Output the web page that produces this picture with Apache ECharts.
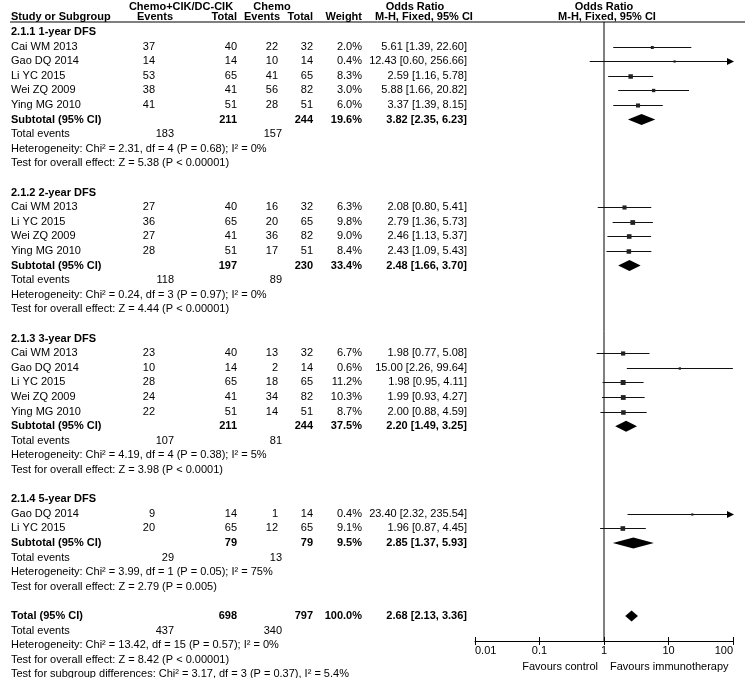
<!DOCTYPE html>
<html>
<head>
<meta charset="utf-8">
<script src="https://cdn.jsdelivr.net/npm/echarts@6/dist/echarts.min.js"></script>
<style>
html,body{margin:0;padding:0;background:#fff;}
#chart{width:745px;height:678px;}
</style>
</head>
<body>
<div id="chart"></div>
<script>
// ---------------- DATA ----------------
const groupNames = ["2.1.1 1-year DFS", "2.1.2 2-year DFS", "2.1.3 3-year DFS", "2.1.4 5-year DFS"];
const studyGroup = [0,0,0,0,0, 1,1,1,1, 2,2,2,2,2, 3,3];
const studyNames = ["Cai WM 2013","Gao DQ 2014","Li YC 2015","Wei ZQ 2009","Ying MG 2010",
                    "Cai WM 2013","Li YC 2015","Wei ZQ 2009","Ying MG 2010",
                    "Cai WM 2013","Gao DQ 2014","Li YC 2015","Wei ZQ 2009","Ying MG 2010",
                    "Gao DQ 2014","Li YC 2015"];
const expEvents = [37,14,53,38,41, 27,36,27,28, 23,10,28,24,22, 9,20];
const expTotal  = [40,14,65,41,51, 40,65,41,51, 40,14,65,41,51, 14,65];
const ctlEvents = [22,10,41,56,28, 16,20,36,17, 13,2,18,34,14, 1,12];
const ctlTotal  = [32,14,65,82,51, 32,65,82,51, 32,14,65,82,51, 14,65];
const weights   = [2.0,0.4,8.3,3.0,6.0, 6.3,9.8,9.0,8.4, 6.7,0.6,11.2,10.3,8.7, 0.4,9.1];
const oddsRatio = [5.61,12.43,2.59,5.88,3.37, 2.08,2.79,2.46,2.43, 1.98,15.00,1.98,1.99,2.00, 23.40,1.96];
const ciLow     = [1.39,0.60,1.16,1.66,1.39, 0.80,1.36,1.13,1.09, 0.77,2.26,0.95,0.93,0.88, 2.32,0.87];
const ciHigh    = [22.60,256.66,5.78,20.82,8.15, 5.41,5.73,5.37,5.43, 5.08,99.64,4.11,4.27,4.59, 235.54,4.45];

const subExpTotal   = [211,197,211,79];
const subCtlTotal   = [244,230,244,79];
const subWeight     = [19.6,33.4,37.5,9.5];
const subOR         = [3.82,2.48,2.20,2.85];
const subLow        = [2.35,1.66,1.49,1.37];
const subHigh       = [6.23,3.70,3.25,5.93];
const subExpEvents  = [183,118,107,29];
const subCtlEvents  = [157,89,81,13];
const subHetText    = ["Heterogeneity: Chi\u00b2 = 2.31, df = 4 (P = 0.68); I\u00b2 = 0%",
                       "Heterogeneity: Chi\u00b2 = 0.24, df = 3 (P = 0.97); I\u00b2 = 0%",
                       "Heterogeneity: Chi\u00b2 = 4.19, df = 4 (P = 0.38); I\u00b2 = 5%",
                       "Heterogeneity: Chi\u00b2 = 3.99, df = 1 (P = 0.05); I\u00b2 = 75%"];
const subTestText   = ["Test for overall effect: Z = 5.38 (P < 0.00001)",
                       "Test for overall effect: Z = 4.44 (P < 0.00001)",
                       "Test for overall effect: Z = 3.98 (P < 0.0001)",
                       "Test for overall effect: Z = 2.79 (P = 0.005)"];

const totalExpTotal = 698, totalCtlTotal = 797, totalWeight = 100.0;
const totalOR = 2.68, totalLow = 2.13, totalHigh = 3.36;
const totalExpEvents = 437, totalCtlEvents = 340;
const totalHetText  = "Heterogeneity: Chi\u00b2 = 13.42, df = 15 (P = 0.57); I\u00b2 = 0%";
const totalTestText = "Test for overall effect: Z = 8.42 (P < 0.00001)";
const subgroupDiffText = "Test for subgroup differences: Chi\u00b2 = 3.17, df = 3 (P = 0.37), I\u00b2 = 5.4%";

const axisTicks = [0.01, 0.1, 1, 10, 100];
const favoursLeft = "Favours control";
const favoursRight = "Favours immunotherapy";

// ---------------- LAYOUT ----------------
const W = 745, H = 678;
const P = 14.6, Y1 = 32;           // row pitch, y of row 1
const rowOfY = y => 1 + (y - Y1) / P;
const HEADER_LINE_Y = 22, AXIS_Y = 641;
const PLOT_L = 475, PLOT_R = 733;
const XMIN = 0.01, XMAX = 100;
const FONT = "'Liberation Sans', Arial, Helvetica, sans-serif";
const FS = 11;

const col = {name: 11, expEv: 155, expTot: 237, ctlEv: 278, ctlTot: 313, wt: 362, or: 467,
             totExpEv: 174, totCtlEv: 282};
const fmt1 = v => v.toFixed(1) + "%";
const fmt2 = v => v.toFixed(2);
const orText = (o, l, h) => fmt2(o) + " [" + fmt2(l) + ", " + fmt2(h) + "]";

const texts = [];
const T = (x, r, text, align, bold) => texts.push({x, r, text, align: align || 'left', bold: !!bold});

// headers
const rTop = rowOfY(6.5), rHead = 0;
T(181, rTop, "Chemo+CIK/DC-CIK", 'center', true);
T(272, rTop, "Chemo", 'center', true);
T(415, rTop, "Odds Ratio", 'center', true);
T(604, rTop, "Odds Ratio", 'center', true);
T(col.name, rHead, "Study or Subgroup", 'left', true);
T(173, rHead, "Events", 'right', true);
T(col.expTot, rHead, "Total", 'right', true);
T(280, rHead, "Events", 'right', true);
T(col.ctlTot, rHead, "Total", 'right', true);
T(col.wt, rHead, "Weight", 'right', true);
T(424, rHead, "M-H, Fixed, 95% CI", 'center', true);
T(607, rHead, "M-H, Fixed, 95% CI", 'center', true);

const studyRows = [];
const diamondRows = [];
let r = 1;
groupNames.forEach((g, gi) => {
  T(col.name, r, g, 'left', true); r++;
  studyNames.forEach((n, i) => {
    if (studyGroup[i] !== gi) return;
    T(col.name, r, n);
    T(col.expEv, r, String(expEvents[i]), 'right');
    T(col.expTot, r, String(expTotal[i]), 'right');
    T(col.ctlEv, r, String(ctlEvents[i]), 'right');
    T(col.ctlTot, r, String(ctlTotal[i]), 'right');
    T(col.wt, r, fmt1(weights[i]), 'right');
    T(col.or, r, orText(oddsRatio[i], ciLow[i], ciHigh[i]), 'right');
    studyRows.push({r, or: oddsRatio[i], lo: ciLow[i], hi: ciHigh[i], w: weights[i]});
    r++;
  });
  T(col.name, r, "Subtotal (95% CI)", 'left', true);
  T(col.expTot, r, String(subExpTotal[gi]), 'right', true);
  T(col.ctlTot, r, String(subCtlTotal[gi]), 'right', true);
  T(col.wt, r, fmt1(subWeight[gi]), 'right', true);
  T(col.or, r, orText(subOR[gi], subLow[gi], subHigh[gi]), 'right', true);
  diamondRows.push({r, or: subOR[gi], lo: subLow[gi], hi: subHigh[gi]});
  r++;
  T(col.name, r, "Total events");
  T(col.totExpEv, r, String(subExpEvents[gi]), 'right');
  T(col.totCtlEv, r, String(subCtlEvents[gi]), 'right');
  r++;
  T(col.name, r, subHetText[gi]); r++;
  T(col.name, r, subTestText[gi]); r++;
  r++;
});
T(col.name, r, "Total (95% CI)", 'left', true);
T(col.expTot, r, String(totalExpTotal), 'right', true);
T(col.ctlTot, r, String(totalCtlTotal), 'right', true);
T(col.wt, r, totalWeight.toFixed(1) + "%", 'right', true);
T(col.or, r, orText(totalOR, totalLow, totalHigh), 'right', true);
diamondRows.push({r, or: totalOR, lo: totalLow, hi: totalHigh});
r++;
T(col.name, r, "Total events");
T(col.totExpEv, r, String(totalExpEvents), 'right');
T(col.totCtlEv, r, String(totalCtlEvents), 'right');
r++;
T(col.name, r, totalHetText); r++;
T(col.name, r, totalTestText); r++;
T(col.name, r, subgroupDiffText); r++;

const rFav = rowOfY(667);
T(598, rFav, favoursLeft, 'right');
T(610, rFav, favoursRight, 'left');

const yMin0 = rowOfY(HEADER_LINE_Y), yMax0 = rowOfY(AXIS_Y);
const yMin1 = rowOfY(0), yMax1 = rowOfY(H);

const chart = echarts.init(document.getElementById('chart'), null, {renderer: 'canvas'});
const option = {
  animation: false,
  backgroundColor: '#fff',
  grid: [
    {left: PLOT_L, width: PLOT_R - PLOT_L, top: HEADER_LINE_Y, height: AXIS_Y - HEADER_LINE_Y},
    {left: 0, width: W, top: 0, height: H}
  ],
  xAxis: [
    {gridIndex: 0, type: 'log', logBase: 10, min: XMIN, max: XMAX, position: 'bottom',
     axisLine: {show: true, onZero: false, lineStyle: {color: '#000', width: 1}},
     axisTick: {show: true, length: 4, lineStyle: {color: '#000'}},
     axisLabel: {show: true, color: '#000', fontSize: FS, fontFamily: FONT, margin: 4,
                 alignMinLabel: 'left', alignMaxLabel: 'right',
                 formatter: v => { const m = axisTicks.find(t => Math.abs(Math.log10(t) - Math.log10(v)) < 1e-6); return m === undefined ? '' : String(m); }},
     splitLine: {show: false}},
    {gridIndex: 0, type: 'log', logBase: 10, min: XMIN, max: XMAX, position: 'bottom',
     axisLine: {show: false}, axisTick: {show: true, inside: true, length: 4, lineStyle: {color: '#000'}},
     axisLabel: {show: false}, splitLine: {show: false}},
    {gridIndex: 1, type: 'value', min: 0, max: W, show: false}
  ],
  yAxis: [
    {gridIndex: 0, type: 'value', min: yMin0, max: yMax0, inverse: true, show: false},
    {gridIndex: 1, type: 'value', min: yMin1, max: yMax1, inverse: true, show: false}
  ],
  graphic: [
    {type: 'line', shape: {x1: 10, y1: HEADER_LINE_Y, x2: W, y2: HEADER_LINE_Y}, style: {stroke: '#000', lineWidth: 1}, z: 10}
  ],
  series: [
    { // reference line at OR = 1
      type: 'line', xAxisIndex: 0, yAxisIndex: 0, data: [[1, yMin0], [1, yMax0]],
      showSymbol: false, lineStyle: {color: '#000', width: 1}, silent: true, z: 2
    },
    { // study CIs and squares
      type: 'custom', xAxisIndex: 0, yAxisIndex: 0, clip: false, silent: true, z: 3,
      data: studyRows.map(d => [d.or, d.r, d.lo, d.hi]),
      encode: {x: [0, 2, 3], y: 1},
      renderItem: (params, api) => {
        const d = studyRows[params.dataIndex];
        const lo = Math.max(d.lo, XMIN), hi = Math.min(d.hi, XMAX);
        const p1 = api.coord([lo, d.r]), p2 = api.coord([hi, d.r]), pc = api.coord([d.or, d.r]);
        const y = Math.round(p1[1]) + 0.5;
        const s = 1.6 + Math.sqrt(d.w) * 1.0;
        const ch = [
          {type: 'line', shape: {x1: p1[0], y1: y, x2: p2[0], y2: y}, style: {stroke: '#111', lineWidth: 1}},
          {type: 'rect', shape: {x: pc[0] - s / 2, y: y - s / 2, width: s, height: s}, style: {fill: '#222'}}
        ];
        if (d.hi > XMAX) {
          ch.push({type: 'polygon', shape: {points: [[p2[0] + 1, y], [p2[0] - 6, y - 3.5], [p2[0] - 6, y + 3.5]]}, style: {fill: '#000'}});
        }
        return {type: 'group', children: ch};
      }
    },
    { // diamonds
      type: 'custom', xAxisIndex: 0, yAxisIndex: 0, clip: false, silent: true, z: 3,
      data: diamondRows.map(d => [d.or, d.r, d.lo, d.hi]),
      encode: {x: [0, 2, 3], y: 1},
      renderItem: (params, api) => {
        const d = diamondRows[params.dataIndex];
        const pl = api.coord([d.lo, d.r]), ph = api.coord([d.hi, d.r]), pc = api.coord([d.or, d.r]);
        const hh = 5.5;
        return {type: 'polygon', shape: {points: [[pl[0], pl[1]], [pc[0], pc[1] - hh], [ph[0], ph[1]], [pc[0], pc[1] + hh]]},
                style: {fill: '#000'}};
      }
    },
    { // table text
      type: 'custom', xAxisIndex: 2, yAxisIndex: 1, clip: false, silent: true, z: 4,
      data: texts.map(t => [t.x, t.r]),
      renderItem: (params, api) => {
        const t = texts[params.dataIndex];
        const p = api.coord([t.x, t.r]);
        return {type: 'text', style: {text: t.text, x: p[0], y: p[1], align: t.align, verticalAlign: 'middle',
                font: (t.bold ? 'bold ' : '') + FS + 'px ' + FONT, fill: '#000'}};
      }
    }
  ]
};
chart.setOption(option);
</script>
</body>
</html>
